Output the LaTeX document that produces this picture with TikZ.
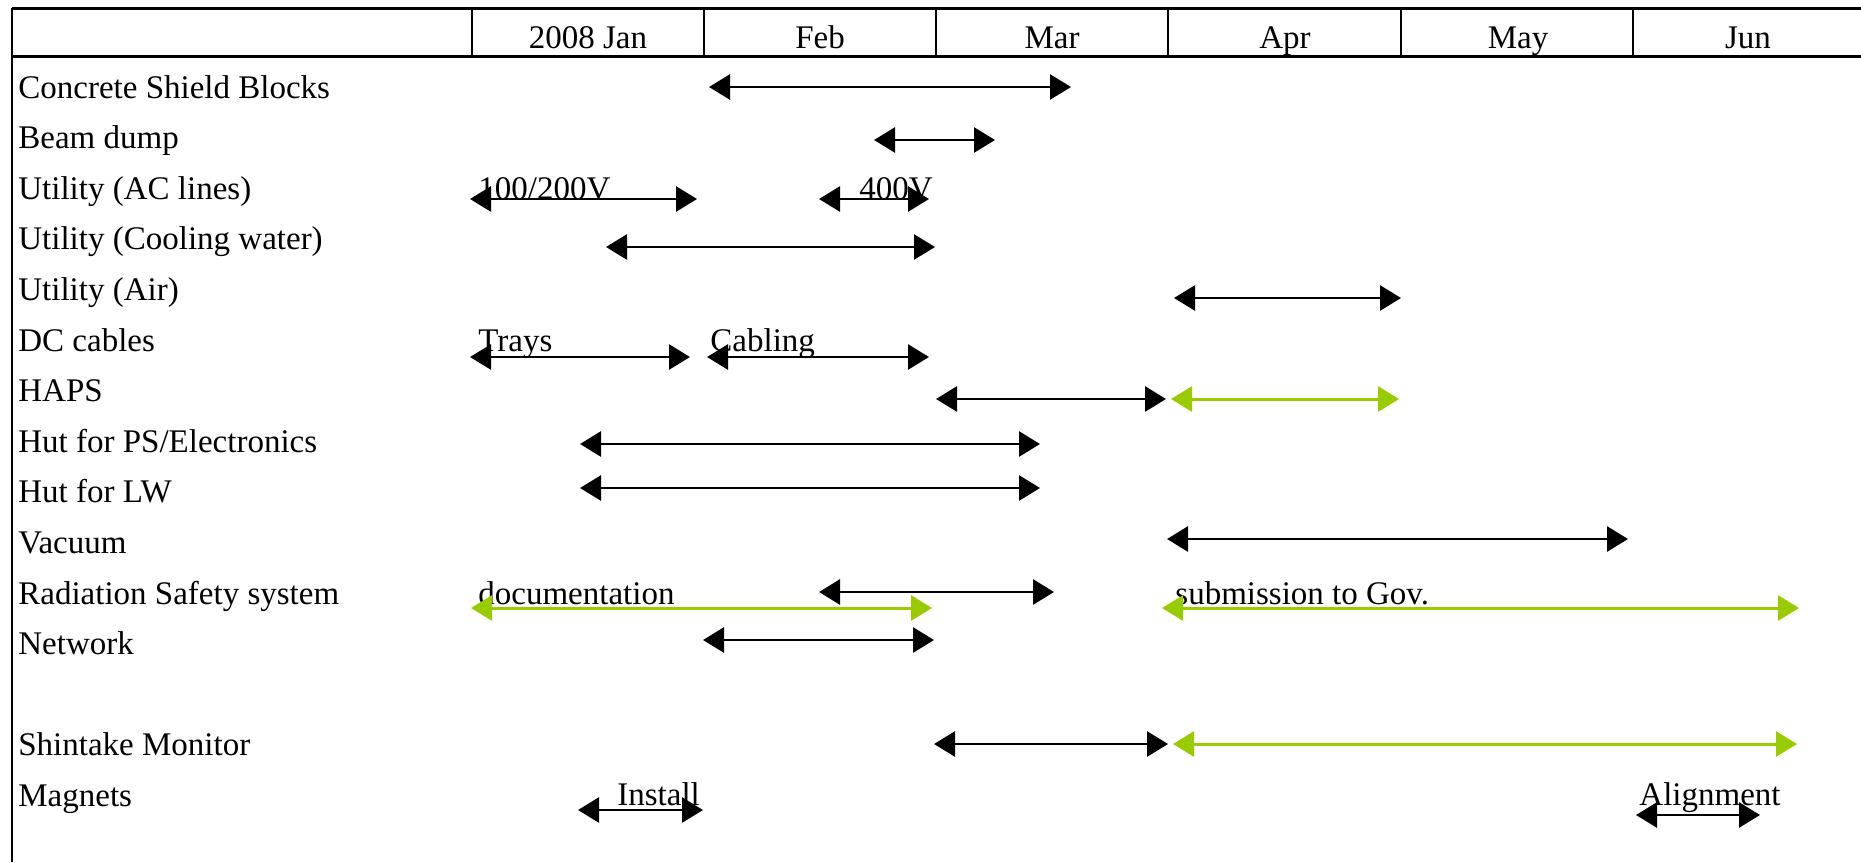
\documentclass[tikz,border=0pt]{standalone}
\usepackage{fontspec}
\setmainfont{Liberation Serif}
\usetikzlibrary{arrows.meta}
\definecolor{bargreen}{RGB}{153,204,0}
\begin{document}
\begin{tikzpicture}[x=0.5pt,y=-0.5pt,
  txt/.style={inner sep=0pt,font=\fontsize{16.5}{19}\selectfont},
  lbl/.style={txt,anchor=base west},
  hdr/.style={txt,anchor=base},
  tip/.tip={Triangle[length=10.5pt,width=12.5pt]},
  bar/.style={line width=1.4pt,tip-tip},
  gbar/.style={bar,color=bargreen,line width=1.5pt},
  rule/.style={line width=1.5pt},
  divider/.style={line width=1pt}
]
\useasboundingbox (0,0) rectangle (1861,862);
% frame
\coordinate (tl) at (12,8);
\coordinate (tr) at (1861,8);
\coordinate (hl) at (12,56);
\coordinate (hr) at (1861,56);
\coordinate (bl) at (12,862);
\draw[rule] (tl) -- (tr);
\draw[rule] (hl) -- (hr);
\draw[divider] (tl) -- (bl);
\foreach \x/\n in {472/d1,704/d2,936/d3,1168/d4,1401/d5,1633/d6}{
  \coordinate (\n t) at (\x,8);
  \coordinate (\n b) at (\x,56);
  \draw[divider] (\n t) -- (\n b);
}
% header
\node[hdr] (mJan) at (588,48) {2008 Jan};
\node[hdr] (mFeb) at (820,48) {Feb};
\node[hdr] (mMar) at (1052,48) {Mar};
\node[hdr] (mApr) at (1285,48) {Apr};
\node[hdr] (mMay) at (1518,48) {May};
\node[hdr] (mJun) at (1748,48) {Jun};
% row labels
\node[lbl] (r0) at (18,98) {Concrete Shield Blocks};
\node[lbl] (r1) at (18,148.6) {Beam dump};
\node[lbl] (r2) at (18,199.2) {Utility (AC lines)};
\node[lbl] (r3) at (18,249.8) {Utility (Cooling water)};
\node[lbl] (r4) at (18,300.4) {Utility (Air)};
\node[lbl] (r5) at (18,351) {DC cables};
\node[lbl] (r6) at (18,401.6) {HAPS};
\node[lbl] (r7) at (18,452.2) {Hut for PS/Electronics};
\node[lbl] (r8) at (18,502.8) {Hut for LW};
\node[lbl] (r9) at (18,553.4) {Vacuum};
\node[lbl] (r10) at (18,604) {Radiation Safety system};
\node[lbl] (r11) at (18,654.6) {Network};
\node[lbl] (r13) at (18,755.8) {Shintake Monitor};
\node[lbl] (r14) at (18,806.4) {Magnets};
% bar labels
\node[lbl] (t100) at (478,199.2) {100/200V};
\node[lbl] (t400) at (859,199.2) {400V};
\node[lbl] (ttrays) at (478,351) {Trays};
\node[lbl] (tcab) at (710,351) {Cabling};
\node[lbl] (tdoc) at (478,604) {documentation};
\node[lbl] (tsub) at (1175,604) {submission to Gov.};
\node[lbl] (tinst) at (617,805.5) {Install};
\node[lbl] (talign) at (1639,805.5) {Alignment};
% bars
\coordinate (b0s) at (709,87);   \coordinate (b0e) at (1071,87);
\coordinate (b1s) at (874,140);  \coordinate (b1e) at (995,140);
\coordinate (b2s) at (470,199);  \coordinate (b2e) at (697,199);
\coordinate (b2bs) at (819,199); \coordinate (b2be) at (929,199);
\coordinate (b3s) at (606,247);  \coordinate (b3e) at (935,247);
\coordinate (b4s) at (1174,298); \coordinate (b4e) at (1401,298);
\coordinate (b5s) at (470,357);  \coordinate (b5e) at (690,357);
\coordinate (b5bs) at (707,357); \coordinate (b5be) at (929,357);
\coordinate (b6s) at (936,399);  \coordinate (b6e) at (1166,399);
\coordinate (g6s) at (1171,399); \coordinate (g6e) at (1399,399);
\coordinate (b7s) at (580,444);  \coordinate (b7e) at (1040,444);
\coordinate (b8s) at (580,488);  \coordinate (b8e) at (1040,488);
\coordinate (b9s) at (1167,539); \coordinate (b9e) at (1628,539);
\coordinate (b10s) at (819,592); \coordinate (b10e) at (1054,592);
\coordinate (g10s) at (471,608); \coordinate (g10e) at (932,608);
\coordinate (g10bs) at (1162,608); \coordinate (g10be) at (1799,608);
\coordinate (b11s) at (703,640); \coordinate (b11e) at (934,640);
\coordinate (b13s) at (934,744); \coordinate (b13e) at (1168,744);
\coordinate (g13s) at (1173,744); \coordinate (g13e) at (1797,744);
\coordinate (b14s) at (578,810); \coordinate (b14e) at (703,810);
\coordinate (b14bs) at (1636,815); \coordinate (b14be) at (1760,815);
\draw[bar] (b0s) -- (b0e);
\draw[bar] (b1s) -- (b1e);
\draw[bar] (b2s) -- (b2e);
\draw[bar] (b2bs) -- (b2be);
\draw[bar] (b3s) -- (b3e);
\draw[bar] (b4s) -- (b4e);
\draw[bar] (b5s) -- (b5e);
\draw[bar] (b5bs) -- (b5be);
\draw[bar] (b6s) -- (b6e);
\draw[gbar] (g6s) -- (g6e);
\draw[bar] (b7s) -- (b7e);
\draw[bar] (b8s) -- (b8e);
\draw[bar] (b9s) -- (b9e);
\draw[bar] (b10s) -- (b10e);
\draw[gbar] (g10s) -- (g10e);
\draw[gbar] (g10bs) -- (g10be);
\draw[bar] (b11s) -- (b11e);
\draw[bar] (b13s) -- (b13e);
\draw[gbar] (g13s) -- (g13e);
\draw[bar] (b14s) -- (b14e);
\draw[bar] (b14bs) -- (b14be);
\end{tikzpicture}
\end{document}
